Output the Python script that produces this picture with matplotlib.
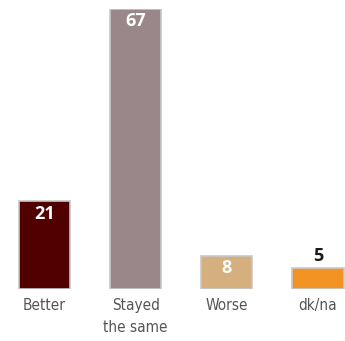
import matplotlib.pyplot as plt

categories = ['Better', 'Stayed\nthe same', 'Worse', 'dk/na']
values = [21, 67, 8, 5]
colors = ['#510000', '#9a878a', '#d5af7d', '#f39324']
inside = [True, True, True, False]

fig = plt.figure(figsize=(3.45, 3.41), dpi=100)
ax = fig.add_axes([0, 0.1525, 1, 0.821])

x = range(len(values))
ax.bar(x, values, width=0.56, color=colors, edgecolor='#c8c8c8', linewidth=1.2)

for i, v in enumerate(values):
    if inside[i]:
        ax.text(i, v - 0.8, str(v), ha='center', va='top', color='white',
                fontsize=13, fontweight='bold', family='Open Sans')
    else:
        ax.text(i, v + 0.8, str(v), ha='center', va='bottom', color='#1a1a1a',
                fontsize=13, fontweight='bold', family='Open Sans')

for i, lab in enumerate(categories):
    ax.text(i, -2.2, lab, ha='center', va='top', color='#555555',
            fontsize=11, family='DejaVu Sans', fontstretch='condensed',
            linespacing=1.55)

ax.set_xlim(-0.488, 3.296)
ax.set_ylim(0, 67)
ax.axis('off')

fig.savefig('out.png', dpi=100)
